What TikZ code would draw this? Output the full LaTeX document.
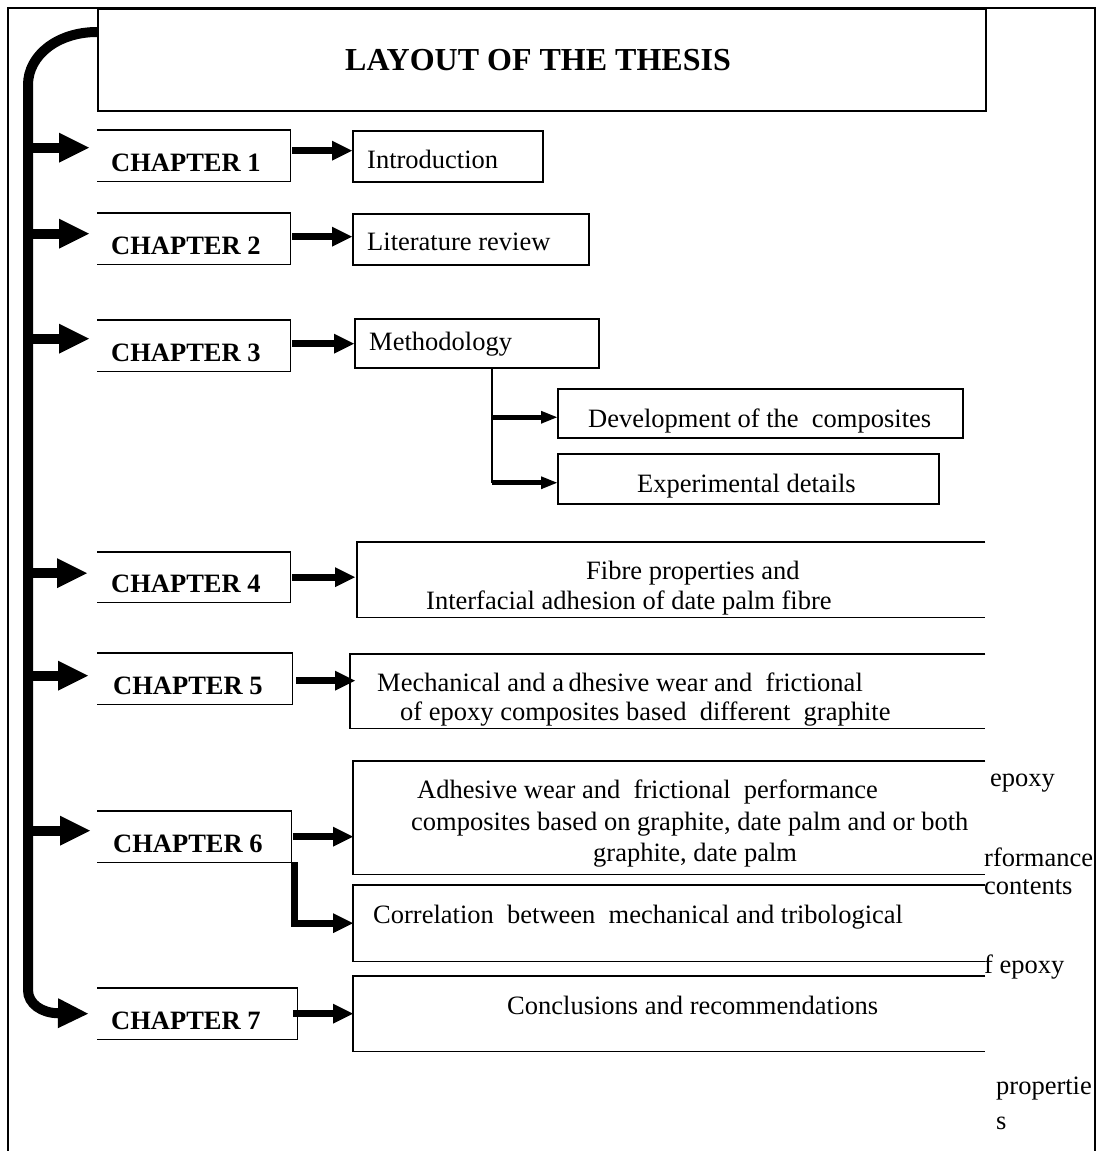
\documentclass[tikz,border=0pt]{standalone}
\usepackage{fontspec}
\setmainfont{Liberation Serif}
\usetikzlibrary{arrows.meta}
\newcommand\bodyfs{\fontsize{26.5}{31}\selectfont}
\begin{document}
\begin{tikzpicture}[x=1pt,y=-1pt,
  box/.style={rectangle,inner sep=0pt,anchor=north west},
  sz/.style 2 args={minimum width=#1pt,minimum height=#2pt},
  ln/.style={line width=1.5pt},
  chln/.style={line width=1.4pt},
  txt/.style={inner sep=0pt,anchor=base west,font=\bodyfs},
  chtxt/.style={inner sep=0pt,anchor=base west,font=\bodyfs\bfseries},
  bigarrow/.style={line width=10pt,-{Triangle[length=30pt,width=30pt,line width=0pt]}},
  smallarrow/.style={line width=7pt,-{Triangle[length=20pt,width=20pt,line width=0pt]}},
  medarrow/.style={line width=5pt,-{Triangle[length=16pt,width=13pt,line width=0pt]}},
  thinline/.style={line width=1.5pt}
]
\fill[white] (0,0) rectangle (1101,1151);
\useasboundingbox (0,0) rectangle (1101,1151);
% outer frame
\draw[line width=2.3pt] (8,1151) -- (8,8) -- (1095,8) -- (1095,1151);

% title
\node[box,draw,line width=2.3pt,sz={888}{102}] (title) at (97,8) {};
\node[inner sep=0pt,anchor=base west,font=\fontsize{32}{38}\selectfont\bfseries] (tt) at (345,70) {LAYOUT OF THE THESIS};

% chapter boxes
\node[box,sz={193}{51}] (c1) at (97,130) {};
\node[box,sz={193}{51}] (c2) at (97,213) {};
\node[box,sz={193}{51}] (c3) at (97,320) {};
\node[box,sz={193}{50}] (c4) at (97,552) {};
\node[box,sz={195}{51}] (c5) at (97,653) {};
\node[box,sz={194}{51}] (c6) at (97,811) {};
\node[box,sz={200}{51}] (c7) at (97,988) {};
\foreach \n in {c1,c2,c3,c4,c5,c6,c7}
  \draw[chln] (\n.north west) -- (\n.north east) -- (\n.south east) -- (\n.south west);

\node[chtxt] (t1) at (111,171) {CHAPTER 1};
\node[chtxt] (t2) at (111,254) {CHAPTER 2};
\node[chtxt] (t3) at (111,361) {CHAPTER 3};
\node[chtxt] (t4) at (111,592) {CHAPTER 4};
\node[chtxt] (t5) at (113,694) {CHAPTER 5};
\node[chtxt] (t6) at (113,852) {CHAPTER 6};
\node[chtxt] (t7) at (111,1029) {CHAPTER 7};

% content boxes (closed)
\node[box,draw,ln,sz={190}{51}] (intro) at (352,130) {};
\node[box,draw,ln,sz={236}{51}] (lit) at (352,213) {};
\node[box,draw,ln,sz={244}{49}] (meth) at (354,318) {};
\node[box,draw,ln,sz={405}{49}] (dev) at (557,388) {};
\node[box,draw,ln,sz={381}{50}] (exp) at (557,453) {};

% content boxes (open at right)
\node[box,sz={628}{75}] (fibre) at (357,542) {};
\node[box,sz={635}{74}] (mech) at (350,654) {};
\node[box,sz={632}{113}] (adh) at (353,761) {};
\node[box,sz={632}{76}] (corr) at (353,885) {};
\node[box,sz={632}{75}] (concl) at (353,976) {};
\foreach \n in {fibre,mech,adh,corr,concl}
  \draw[ln] (\n.north east) -- (\n.north west) -- (\n.south west) -- (\n.south east);

% content texts
\node[txt] (x1) at (367,168) {Introduction};
\node[txt] (x2) at (367,250) {Literature review};
\node[txt] (x3) at (369,350) {Methodology};
\node[txt] (x3a) at (588,427) {Development of the \ composites};
\node[txt] (x3b) at (637,492) {Experimental details};
\node[txt] (x4a) at (586,579) {Fibre properties and};
\node[txt] (x4b) at (426,609) {Interfacial adhesion of date palm fibre};
\node[txt] (x5a) at (377,691) {Mechanical and a\,dhesive wear and \ frictional};
\node[txt] (x5b) at (400,720) {of epoxy composites based \ different \ graphite};
\node[txt] (x6a) at (417,798) {Adhesive wear and \ frictional \ performance};
\node[txt] (x6b) at (411,830) {composites based on graphite, date palm and or both};
\node[txt] (x6c) at (593,861) {graphite, date palm};
\node[txt] (x6d) at (373,923) {Correlation \ between \ mechanical and tribological};
\node[txt] (x7) at (507,1014) {Conclusions and recommendations};

% stray texts on the right
\node[txt] (s1) at (990,786) {epoxy};
\node[txt] (s2) at (984,866) {rformance};
\node[txt] (s3) at (984,894) {contents};
\node[txt] (s4) at (984,973) {f epoxy};
\node[txt] (s5) at (996,1094) {propertie};
\node[txt] (s6) at (996,1129) {s};

% spine
\coordinate (sp0) at (97,32);
\coordinate (spx) at (28,85);
\coordinate (b7) at ([xshift=-9pt]c7.west);
\draw[bigarrow] (sp0) .. controls (58,32) and (28,55) .. (spx) -- (28,990)
  .. controls (28,1004) and (42,1013) .. (b7);
\coordinate (b1) at ([shift={(-8,-8)}]c1.west);
\coordinate (b2) at ([shift={(-8,-5)}]c2.west);
\coordinate (b3) at ([shift={(-8,-7)}]c3.west);
\coordinate (b4) at ([shift={(-10,-4)}]c4.west);
\coordinate (b5) at ([shift={(-9,-3)}]c5.west);
\coordinate (b6) at ([shift={(-7,-6)}]c6.west);
\foreach \b in {b1,b2,b3,b4,b5,b6}
  \draw[bigarrow] (spx |- \b) -- (\b);

% chapter -> content arrows
\coordinate (a1) at ([shift={(2,-5)}]c1.east);
\coordinate (a2) at ([shift={(2,-2)}]c2.east);
\coordinate (a3) at ([shift={(2,-2)}]c3.east);
\coordinate (a4) at ([shift={(2,0)}]c4.east);
\coordinate (a5) at ([shift={(4,2)}]c5.east);
\coordinate (a6) at ([shift={(2,0)}]c6.east);
\coordinate (a7) at ([shift={(-4,0)}]c7.east);
\draw[smallarrow] (a1) -- (a1 -| intro.west);
\draw[smallarrow] (a2) -- (a2 -| lit.west);
\draw[smallarrow] (a3) -- (a3 -| meth.west);
\draw[smallarrow] (a4) -- ([xshift=-2pt]a4 -| fibre.west);
\draw[smallarrow] (a5) -- ([xshift=5pt]a5 -| mech.west);
\draw[smallarrow] (a6) -- (a6 -| adh.west);
\draw[smallarrow] (a7) -- (a7 -| concl.west);
\coordinate (e6) at ([xshift=3pt]c6.south east);
\draw[smallarrow] (e6) |- (corr.west);

% methodology branches
\coordinate (mb) at ([xshift=15pt]meth.south);
\coordinate (dw) at ([yshift=-4pt]dev.west);
\coordinate (ew) at ([yshift=-4pt]exp.west);
\draw[thinline] (mb) -- (mb |- ew);
\draw[medarrow] (mb |- dw) -- (dw);
\draw[medarrow] (mb |- ew) -- (ew);
\end{tikzpicture}
\end{document}
